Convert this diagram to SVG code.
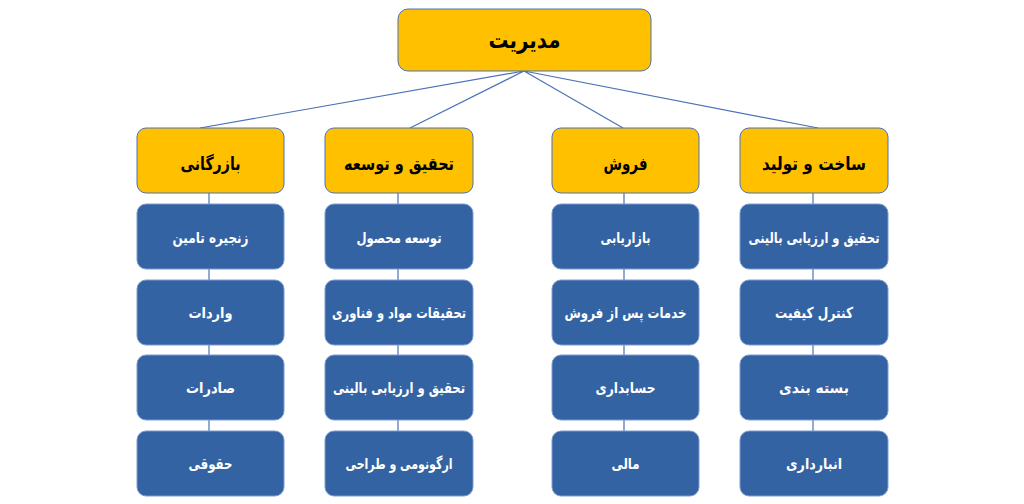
<svg xmlns="http://www.w3.org/2000/svg" width="1024" height="504" viewBox="0 0 1024 504">
<style>
.hdr{fill:#FFC000;stroke:#4A72B8;stroke-width:1}
.sub{fill:#3463A3;stroke:#7C9CCF;stroke-width:1}
.ln{stroke:#4A72B8;stroke-width:1.2;fill:none}
text{font-family:"DejaVu Sans",sans-serif;text-anchor:middle;direction:rtl;font-weight:bold}
.t0{font-size:23px;fill:#000}
.t1{font-size:18px;fill:#000}
.t2{font-size:15px;fill:#fff}
</style>
<rect width="1024" height="504" fill="#fff"/>
<g id="connectors">
<path class="ln" d="M524,71 L200,128 M524,71 L410,128 M524,71 L623,128 M524,71 L818,128"/>
<path class="ln" d="M209,193 V431 M398,193 V431 M624,193 V431 M813,193 V431"/>
</g>
<g id="n-root"><rect class="hdr" x="398" y="9" width="253" height="62" rx="10"/><text class="t0" x="524.5" y="48" textLength="72" lengthAdjust="spacingAndGlyphs">مدیریت</text></g>
<g id="n-bazargani"><rect class="hdr" x="137" y="128" width="147" height="65" rx="9"/><text class="t1" x="210.5" y="170" textLength="60" lengthAdjust="spacingAndGlyphs">بازرگانی</text></g>
<g id="n-tahghigh"><rect class="hdr" x="325" y="128" width="148" height="65" rx="9"/><text class="t1" x="399" y="170" textLength="110" lengthAdjust="spacingAndGlyphs">تحقیق و توسعه</text></g>
<g id="n-foroush"><rect class="hdr" x="552" y="128" width="147" height="65" rx="9"/><text class="t1" x="625.5" y="170" textLength="44" lengthAdjust="spacingAndGlyphs">فروش</text></g>
<g id="n-sakht"><rect class="hdr" x="740" y="128" width="148" height="65" rx="9"/><text class="t1" x="814" y="170" textLength="104" lengthAdjust="spacingAndGlyphs">ساخت و تولید</text></g>

<g id="n-c1-1"><rect class="sub" x="137" y="204" width="147" height="65" rx="9"/><text class="t2" x="210.5" y="243" textLength="76" lengthAdjust="spacingAndGlyphs">زنجیره تامین</text></g>
<g id="n-c1-2"><rect class="sub" x="137" y="280" width="147" height="65" rx="9"/><text class="t2" x="210.5" y="318" textLength="44" lengthAdjust="spacingAndGlyphs">واردات</text></g>
<g id="n-c1-3"><rect class="sub" x="137" y="355" width="147" height="65" rx="9"/><text class="t2" x="210.5" y="393" textLength="49" lengthAdjust="spacingAndGlyphs">صادرات</text></g>
<g id="n-c1-4"><rect class="sub" x="137" y="431" width="147" height="65" rx="9"/><text class="t2" x="210.5" y="469" textLength="44" lengthAdjust="spacingAndGlyphs">حقوقی</text></g>

<g id="n-c2-1"><rect class="sub" x="325" y="204" width="148" height="65" rx="9"/><text class="t2" x="399" y="243" textLength="85" lengthAdjust="spacingAndGlyphs">توسعه محصول</text></g>
<g id="n-c2-2"><rect class="sub" x="325" y="280" width="148" height="65" rx="9"/><text class="t2" x="399" y="318" textLength="134" lengthAdjust="spacingAndGlyphs">تحقیقات مواد و فناوری</text></g>
<g id="n-c2-3"><rect class="sub" x="325" y="355" width="148" height="65" rx="9"/><text class="t2" x="399" y="393" textLength="132" lengthAdjust="spacingAndGlyphs">تحقیق و ارزیابی بالینی</text></g>
<g id="n-c2-4"><rect class="sub" x="325" y="431" width="148" height="65" rx="9"/><text class="t2" x="399" y="469" textLength="107" lengthAdjust="spacingAndGlyphs">ارگونومی و طراحی</text></g>

<g id="n-c3-1"><rect class="sub" x="552" y="204" width="147" height="65" rx="9"/><text class="t2" x="625.5" y="243" textLength="50" lengthAdjust="spacingAndGlyphs">بازاریابی</text></g>
<g id="n-c3-2"><rect class="sub" x="552" y="280" width="147" height="65" rx="9"/><text class="t2" x="625.5" y="318" textLength="122" lengthAdjust="spacingAndGlyphs">خدمات پس از فروش</text></g>
<g id="n-c3-3"><rect class="sub" x="552" y="355" width="147" height="65" rx="9"/><text class="t2" x="625.5" y="393" textLength="60" lengthAdjust="spacingAndGlyphs">حسابداری</text></g>
<g id="n-c3-4"><rect class="sub" x="552" y="431" width="147" height="65" rx="9"/><text class="t2" x="625.5" y="469" textLength="28" lengthAdjust="spacingAndGlyphs">مالی</text></g>

<g id="n-c4-1"><rect class="sub" x="740" y="204" width="148" height="65" rx="9"/><text class="t2" x="814" y="243" textLength="131" lengthAdjust="spacingAndGlyphs">تحقیق و ارزیابی بالینی</text></g>
<g id="n-c4-2"><rect class="sub" x="740" y="280" width="148" height="65" rx="9"/><text class="t2" x="814" y="318" textLength="78" lengthAdjust="spacingAndGlyphs">کنترل کیفیت</text></g>
<g id="n-c4-3"><rect class="sub" x="740" y="355" width="148" height="65" rx="9"/><text class="t2" x="814" y="393" textLength="70" lengthAdjust="spacingAndGlyphs">بسته بندی</text></g>
<g id="n-c4-4"><rect class="sub" x="740" y="431" width="148" height="65" rx="9"/><text class="t2" x="814" y="469" textLength="56" lengthAdjust="spacingAndGlyphs">انبارداری</text></g>
</svg>
